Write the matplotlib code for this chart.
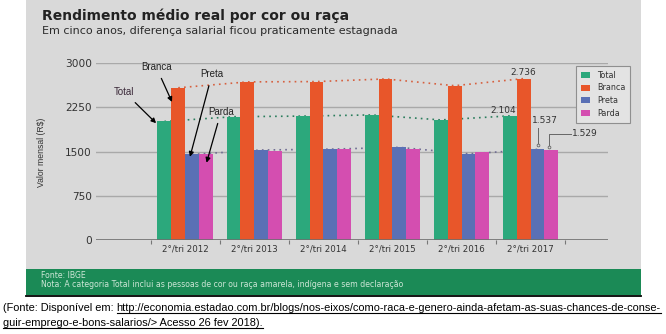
import numpy as np
import matplotlib
matplotlib.use("Agg")
import matplotlib.pyplot as plt
from matplotlib.patches import Rectangle

W, H = 666, 334

# rendimento médio mensal (R$) por cor ou raça
periodos = ["2°/tri 2012", "2°/tri 2013", "2°/tri 2014",
            "2°/tri 2015", "2°/tri 2016", "2°/tri 2017"]
total = [2010, 2090, 2100, 2120, 2035, 2104]
branca = [2580, 2680, 2685, 2730, 2615, 2736]
preta = [1450, 1525, 1540, 1570, 1460, 1537]
parda = [1460, 1515, 1535, 1540, 1490, 1529]
series = ["Total", "Branca", "Preta", "Parda"]
cores = ["#2ca87c", "#e8562a", "#5a70b5", "#d44eb0"]
yticks = [0, 750, 1500, 2250, 3000]

titulo = "Rendimento médio real por cor ou raça"
subtitulo = "Em cinco anos, diferença salarial ficou praticamente estagnada"
fonte = "Fonte: IBGE"
nota = "Nota: A categoria Total inclui as pessoas de cor ou raça amarela, indígena e sem declaração"
cit_pre = "(Fonte: Disponível em: "
cit_url = "http://economia.estadao.com.br/blogs/nos-eixos/como-raca-e-genero-ainda-afetam-as-suas-chances-de-conse-"
cit_2 = "guir-emprego-e-bons-salarios/> Acesso 26 fev 2018)."


def fmt(v):
    return f"{v:,}".replace(",", ".")


fig = plt.figure(figsize=(W / 100, H / 100), dpi=100)

# fundo cinza, rodapé verde, linha preta
bg = fig.add_axes([0, 0, 1, 1])
bg.set_xlim(0, W)
bg.set_ylim(H, 0)
bg.axis("off")
bg.add_patch(Rectangle((26, 0), 615, 269, color="#d9d9d9", lw=0))
bg.add_patch(Rectangle((26, 269), 615, 26, color="#1b8a56", lw=0))
bg.plot([26, 641], [296, 296], color="black", lw=1.3)

ax = fig.add_axes([96 / W, 1 - 240 / H, 512 / W, 177 / H])
ax.patch.set_alpha(0)
x = np.arange(len(periodos))
w = 0.2
valores = [total, branca, preta, parda]
for k, (nome, vals, cor) in enumerate(zip(series, valores, cores)):
    ax.bar(x + (k - 1.5) * w, vals, w, color=cor, zorder=3, label=nome)

# linhas pontilhadas ligando os topos
pont = (0, (1, 2.5))
ax.plot(x - 0.3, total, color="#2a7d5c", ls=pont, lw=1.2, zorder=2)
ax.plot(x - 0.1, branca, color="#d6603f", ls=pont, lw=1.2, zorder=2)
ax.plot(x + 0.1, preta, color="#6f6c92", ls=pont, lw=1.2, zorder=2)

for v in yticks[1:]:
    ax.axhline(v, color="#a9a9a9", lw=1, zorder=1)
ax.axhline(0, color="#6f6f6f", lw=1.2, zorder=4)

ax.set_xlim(-1.29, 6.12)
ax.set_ylim(0, 3000)
for s in ax.spines.values():
    s.set_visible(False)
ax.set_yticks(yticks)
ax.set_yticklabels([str(v) for v in yticks])
ax.tick_params(axis="y", length=0, pad=3, labelsize=7.6, labelcolor="#333333")
ax.set_xticks(np.arange(len(periodos) + 1) - 0.5)
ax.set_xticklabels([])
ax.set_xticks(x, minor=True)
ax.set_xticklabels(periodos, minor=True)
ax.tick_params(axis="x", which="major", length=3, color="#777777")
ax.tick_params(axis="x", which="minor", length=0, pad=3, labelsize=6.2,
               labelcolor="#333333")

# setas com nomes das séries (2012)
seta = dict(arrowstyle="-|>", color="black", lw=0.9, mutation_scale=7,
            shrinkA=3, shrinkB=0)
ax.annotate("Total", xy=(-0.42, total[0] - 30), xytext=(-0.88, 2510),
            ha="center", va="center", fontsize=7, family="Liberation Sans",
            color="#3a2838", arrowprops=seta, annotation_clip=False)
ax.annotate("Branca", xy=(-0.19, branca[0] - 240), xytext=(-0.42, 2935),
            ha="center", va="center", fontsize=7, family="Liberation Sans",
            color="#222222", arrowprops=seta, annotation_clip=False)
ax.annotate("Preta", xy=(0.07, preta[0] - 40), xytext=(0.39, 2815),
            ha="center", va="center", fontsize=7, family="Liberation Sans",
            color="#222222", arrowprops=seta, annotation_clip=False)
ax.annotate("Parda", xy=(0.31, parda[0] - 150), xytext=(0.52, 2175),
            ha="center", va="center", fontsize=7, family="Liberation Sans",
            color="#222222", arrowprops=seta, annotation_clip=False)

# valores de 2017
i = len(periodos) - 1
lab = dict(fontsize=6.5, color="#333333", va="center")
ax.text(i - 0.1, branca[i] + 100, fmt(branca[i]), ha="center", **lab)
ax.text(i - 0.4, total[i] + 85, fmt(total[i]), ha="center", **lab)
ax.plot([i + 0.1, i + 0.1], [preta[i] + 80, preta[i] + 360], color="#666666", lw=0.7, zorder=5)
ax.plot(i + 0.1, preta[i] + 80, "o", ms=2, mfc="#d9d9d9", mec="#666666", mew=0.6, zorder=5)
ax.text(i + 0.2, preta[i] + 480, fmt(preta[i]), ha="center", **lab)
ax.plot([i + 0.27, i + 0.27, i + 0.58], [parda[i] + 40, parda[i] + 270, parda[i] + 270],
        color="#666666", lw=0.7, zorder=5)
ax.plot(i + 0.27, parda[i] + 40, "o", ms=2, mfc="#d9d9d9", mec="#666666", mew=0.6, zorder=5)
ax.text(i + 0.6, parda[i] + 270, fmt(parda[i]), ha="left", **lab)

leg = ax.legend(loc="upper left", bbox_to_anchor=(576 / W, 1 - 66 / H),
                bbox_transform=fig.transFigure, fontsize=5.8, frameon=True,
                fancybox=False, edgecolor="#8f8f8f", facecolor="#e3e3e3",
                framealpha=1, handlelength=1.1, handleheight=0.8,
                labelspacing=0.45, borderpad=0.6, handletextpad=0.9,
                borderaxespad=0)
leg.get_frame().set_linewidth(0.8)
for t in leg.get_texts():
    t.set_color("#333333")

fig.text(42 / W, 1 - 16 / H, titulo, fontsize=10, weight="bold",
         va="center", color="#222222")
fig.text(42 / W, 1 - 31 / H, subtitulo, fontsize=8, va="center", color="#2b2b2b")
fig.text(42 / W, 1 - 152 / H, "Valor mensal (R$)", rotation=90, ha="center",
         va="center", fontsize=6.2, family="Liberation Sans", color="#333333")
fig.text(41 / W, 1 - 275.5 / H, fonte, fontsize=5.6, va="center", color="#cde6d6")
fig.text(41 / W, 1 - 284.5 / H, nota, fontsize=5.6, va="center", color="#cde6d6")

# citação sublinhada abaixo do quadro
renderer = fig.canvas.get_renderer()


def escreve(partes, x0, y_base, tam):
    objs = []
    xc = x0
    for txt, _ in partes:
        t = fig.text(xc / W, 1 - y_base / H, txt, fontsize=tam,
                     family="Liberation Sans", va="baseline", color="black")
        bb = t.get_window_extent(renderer)
        objs.append((t, xc, xc + bb.width))
        xc += bb.width
    return objs, xc - x0


def linha_citacao(partes, x0, y_base, alvo, tam=8.0):
    objs, larg = escreve(partes, x0, y_base, tam)
    if alvo is not None:
        for t, _, _ in objs:
            t.remove()
        tam = tam * alvo / larg
        objs, larg = escreve(partes, x0, y_base, tam)
    for (t, a, b), (_, sub) in zip(objs, partes):
        if sub:
            bg.plot([a, b], [y_base + 2.2, y_base + 2.2], color="black", lw=0.8)
    return tam


tam = linha_citacao([(cit_pre, False), (cit_url, True)], 3, 311, 659)
linha_citacao([(cit_2, True)], 3, 326, None, tam)

fig.savefig("out.png", dpi=100)
